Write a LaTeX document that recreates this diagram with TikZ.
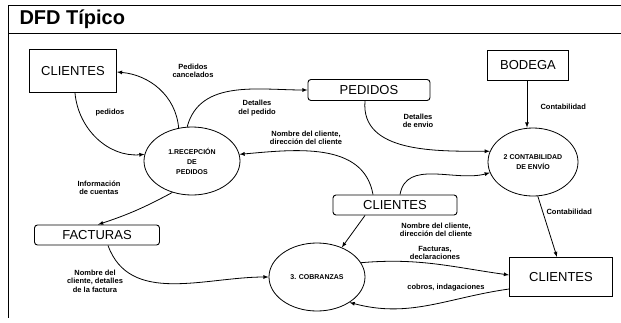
\documentclass[tikz,border=0pt]{standalone}
\usepackage{fontspec}
\setmainfont{Liberation Sans}
\usetikzlibrary{shapes.geometric,positioning}

\tikzset{
    ent/.style={draw,line width=0.9pt,font=\fontsize{13}{15}\selectfont},
    store/.style={draw,line width=0.9pt,rounded corners=3pt,font=\fontsize{13}{15}\selectfont},
    proc/.style={draw,ellipse,line width=0.8pt,align=center,inner sep=0pt,font=\bfseries\fontsize{7}{10}\selectfont},
    lbl/.style={align=center,font=\bfseries\fontsize{7.5}{8.5}\selectfont}
}

\begin{document}
\begin{tikzpicture}[x=1pt,y=-1pt,>=latex]
    \useasboundingbox (0,0) rectangle (621,322);

    % frame and title
    \draw[line width=0.9pt] (621,5) -- (8,5) -- (8,318);
    \draw[line width=0.9pt] (8,33) -- (621,33);
    \node[anchor=west,font=\bfseries\fontsize{20}{22}\selectfont] (title) at (16,19) {DFD Típico};

    % entities and stores
    \node[ent,minimum width=87pt,minimum height=43pt] (c1) at (73,71) {CLIENTES};
    \node[ent,minimum width=81pt,minimum height=30pt] (bod) at (528,65) {BODEGA};
    \node[ent,minimum width=103pt,minimum height=39pt] (c3) at (561,277) {CLIENTES};
    \node[store,minimum width=122pt,minimum height=21pt] (ped) at (369,90) {PEDIDOS};
    \node[store,minimum width=125pt,minimum height=20pt] (fac) at (97,235) {FACTURAS};
    \node[store,minimum width=124pt,minimum height=20pt] (c2) at (395,205) {CLIENTES};

    % processes
    \node[proc,minimum width=96pt,minimum height=68pt] (p1) at (192,161) {1.RECEPCIÓN\\DE\\PEDIDOS};
    \node[proc,minimum width=90pt,minimum height=68pt] (p2) at (533,162) {2 CONTABILIDAD\\DE ENVÍO};
    \node[proc,minimum width=96pt,minimum height=68pt] (p3) at (317,277) {3. COBRANZAS};

    % flows
    \draw[->,thick] ([xshift=2pt]c1.south) to[out=-85,in=185] (p1.172);
    \draw[->,thick] (p1.112) to[out=95,in=-5] ([yshift=-1pt]c1.east);
    \draw[->,thick] (p1.98) to[out=75,in=180] (ped.west);
    \draw[->,thick] ([xshift=-4pt]ped.south) to[out=-95,in=180] (p2.166);
    \draw[->,thick] ([xshift=-1pt]bod.south) -- ([xshift=-6pt]p2.north);
    \draw[->,thick] ([xshift=-22pt]c2.north) to[out=100,in=5] (p1.8);
    \draw[->,thick] ([xshift=5pt]c2.north) to[out=80,in=195] (p2.194);
    \draw[->,thick] ([xshift=-30pt]c2.south) -- (p3.50);
    \draw[->,thick] (p1.238) to[bend left=5] ([xshift=1pt]fac.north);
    \draw[->,thick] ([xshift=11pt]fac.south) to[out=-70,in=180] (p3.west);
    \draw[->,thick] (p3.18) to[out=5,in=172] ([yshift=2pt]c3.west);
    \draw[->,thick] ([yshift=-12pt]c3.west) to[out=188,in=-15] (p3.-38);
    \draw[->,thick] (p2.-82) -- ([xshift=-4pt]c3.north);

    % flow labels
    \node[lbl] (l1) at (193,71) {Pedidos\\cancelados};
    \node[lbl] (l2) at (110,113) {pedidos};
    \node[lbl] (l3) at (257,108) {Detalles\\del pedido};
    \node[lbl] (l4) at (306,138) {Nombre del cliente,\\dirección del cliente};
    \node[lbl] (l5) at (418,121) {Detalles\\de envio};
    \node[lbl,anchor=west] (l6) at (537,107) {Contabilidad};
    \node[lbl] (l7) at (99,188) {Información\\de cuentas};
    \node[lbl] (l8) at (436,230) {Nombre del cliente,\\dirección del cliente};
    \node[lbl] (l9) at (435,253) {Facturas,\\declaraciones};
    \node[lbl,anchor=west] (l10) at (543,212) {Contabilidad};
    \node[lbl] (l11) at (95,281) {Nombre del\\cliente, detalles\\de la factura};
    \node[lbl] (l12) at (446,288) {cobros, indagaciones};
\end{tikzpicture}
\end{document}
